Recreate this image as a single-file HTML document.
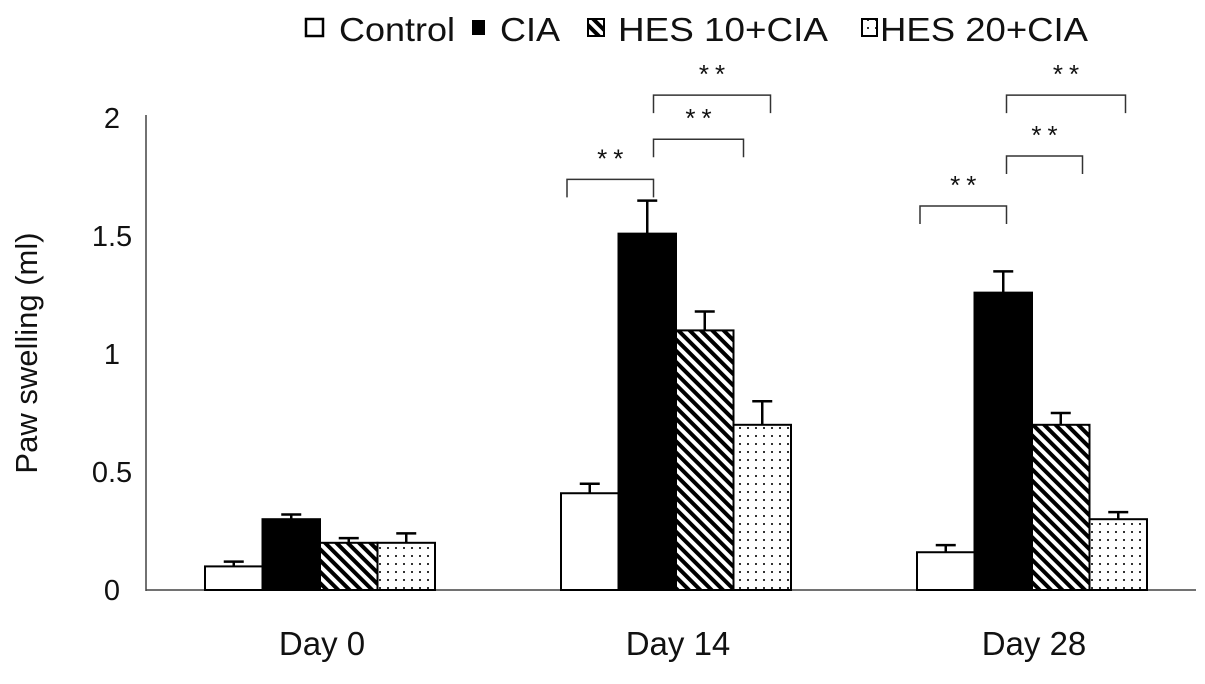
<!DOCTYPE html>
<html><head><meta charset="utf-8"><style>
body{margin:0;background:#fff;}
svg text{font-family:"Liberation Sans",Arial,sans-serif;fill:#111;}
</style></head><body>
<svg id="chart" width="1205" height="679" viewBox="0 0 1205 679">
<defs>
<pattern id="stripes" width="8" height="8" patternUnits="userSpaceOnUse" patternTransform="rotate(45)">
<rect width="8" height="8" fill="#fff"/><rect width="8" height="4" fill="#000"/>
</pattern>
<pattern id="dots" width="8" height="8" patternUnits="userSpaceOnUse">
<rect width="8" height="8" fill="#fff"/><rect x="3" y="3" width="2" height="2" fill="#333"/>
</pattern>
</defs>
<g>
<rect x="306" y="19" width="17" height="17" fill="#fff" stroke="#000" stroke-width="2.5"/>
<text x="339" y="41" font-size="33" textLength="116" lengthAdjust="spacingAndGlyphs">Control</text>
<rect x="472" y="20" width="13" height="15" fill="#000"/>
<text x="500" y="41" font-size="33" textLength="60" lengthAdjust="spacingAndGlyphs">CIA</text>
<rect x="588" y="19" width="16" height="17" fill="url(#stripes)" stroke="#000" stroke-width="2"/>
<text x="618" y="41" font-size="33" textLength="210" lengthAdjust="spacingAndGlyphs">HES 10+CIA</text>
<rect x="862" y="19" width="15" height="17" fill="url(#dots)" stroke="#000" stroke-width="2"/>
<text x="880" y="41" font-size="33" textLength="208" lengthAdjust="spacingAndGlyphs">HES 20+CIA</text>
</g>
<text transform="translate(37,353) rotate(-90)" text-anchor="middle" font-size="31">Paw swelling (ml)</text>
<g id="axes"></g>
<g id="bars"></g>
<g id="sig"></g>
</svg>
<script>
const categories=["Day 0","Day 14","Day 28"];
const seriesNames=["Control","CIA","HES 10+CIA","HES 20+CIA"];
const control=[0.1,0.41,0.16];
const cia=[0.3,1.51,1.26];
const hes10=[0.2,1.1,0.7];
const hes20=[0.2,0.7,0.3];
const controlErr=[0.02,0.04,0.03];
const ciaErr=[0.02,0.14,0.09];
const hes10Err=[0.02,0.08,0.05];
const hes20Err=[0.04,0.1,0.03];
const yTicks=[0,0.5,1,1.5,2];
const yTickLabels=["0","0.5","1","1.5","2"];
const NS="http://www.w3.org/2000/svg";
const y=v=>590-v*236;
const groupCenter=i=>320+i*356;
const barW=57.5;
const x=(i,s)=>groupCenter(i)+(s-2)*barW;
function mk(tag,attrs,parent){const e=document.createElementNS(NS,tag);for(const k in attrs)e.setAttribute(k,attrs[k]);parent.appendChild(e);return e;}
const axes=document.getElementById('axes'),bars=document.getElementById('bars'),sig=document.getElementById('sig');
let e=mk('line',{x1:146,y1:115,x2:146,y2:591,stroke:'#444','stroke-width':1.5},axes);


e=mk('line',{x1:146,y1:590,x2:1196,y2:590,stroke:'#444','stroke-width':1.5},axes);


yTicks.forEach((t,i)=>{const tx=mk('text',{x:112,y:y(t)+10,'text-anchor':'middle','font-size':29},axes);tx.textContent=yTickLabels[i];

});
categories.forEach((c,i)=>{const tx=mk('text',{x:groupCenter(i)+2,y:655,'text-anchor':'middle','font-size':33},axes);tx.textContent=c;

});
const vals=[control,cia,hes10,hes20],errs=[controlErr,ciaErr,hes10Err,hes20Err],fills=['#fff','#000','url(#stripes)','url(#dots)'];
categories.forEach((c,i)=>{vals.forEach((arr,s)=>{
const v=arr[i],top=y(v),x0=x(i,s);
const r=mk('rect',{x:x0,y:top,width:barW,height:590-top,fill:fills[s],stroke:'#000','stroke-width':2},bars);


const et=y(v+errs[s][i]),cx=x0+barW/2;
const l=mk('path',{d:`M${cx} ${top}V${et}M${cx-10} ${et}H${cx+10}`,stroke:'#000','stroke-width':2.5,fill:'none'},bars);


});});
// significance brackets: [group, leftSeries, leftOffset, rightSeries, rightOffset, level]
const brackets=[[1,0,6,1,35,1.74],[1,1,35,3,10,1.91],[1,1,35,3,37,2.097],[2,0,3,1,32,1.627],[2,1,32,3,-7,1.839],[2,1,32,3,36,2.097]];
brackets.forEach(b=>{
const xa=x(b[0],b[1])+b[2], xb=x(b[0],b[3])+b[4];
const yy=y(b[5]);
const p=mk('path',{d:`M${xa} ${yy+18}V${yy}H${xb}V${yy+18}`,stroke:'#333','stroke-width':1.5,fill:'none'},sig);


const t=mk('text',{x:(xa+xb)/2+3,y:yy-12,'text-anchor':'middle','font-size':26,'letter-spacing':6},sig);t.textContent='**';


});
</script>
</body></html>
